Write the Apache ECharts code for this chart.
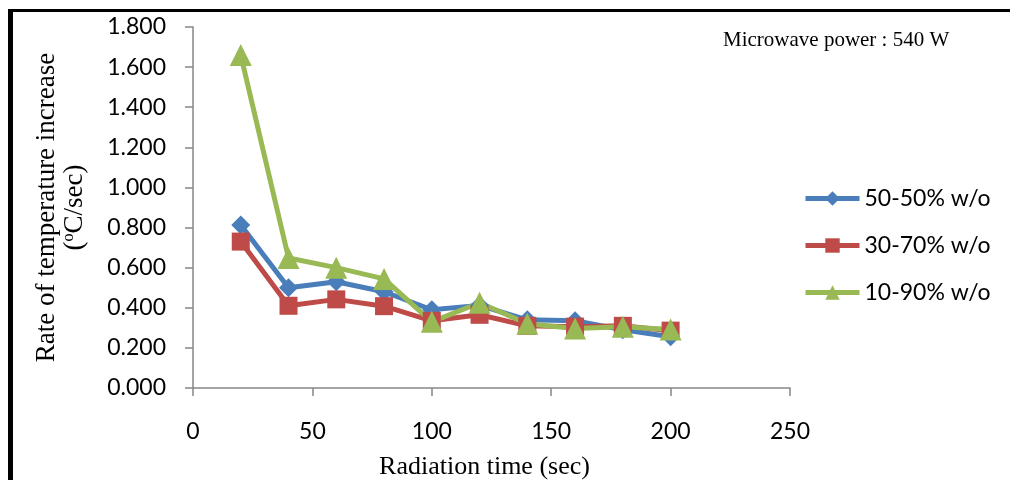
<!DOCTYPE html>
<html>
<head>
<meta charset="utf-8">
<script src="https://cdn.jsdelivr.net/npm/echarts@6/dist/echarts.min.js"></script>
<style>
html,body{margin:0;padding:0;background:#fff;}
#chart{width:1010px;height:480px;}
</style>
</head>
<body>
<div id="chart"></div>
<script>
const xValues = [20, 40, 60, 80, 100, 120, 140, 160, 180, 200];
const s5050 = [0.813, 0.500, 0.530, 0.480, 0.390, 0.412, 0.340, 0.335, 0.290, 0.256];
const s3070 = [0.730, 0.410, 0.442, 0.408, 0.335, 0.365, 0.310, 0.306, 0.310, 0.286];
const s1090 = [1.660, 0.648, 0.600, 0.544, 0.330, 0.425, 0.320, 0.297, 0.305, 0.292];
const seriesNames = ['50-50% w/o', '30-70% w/o', '10-90% w/o'];
const annotation = 'Microwave power : 540 W';
const xTitle = 'Radiation time (sec)';
const yTitle = 'Rate of temperature increase\n({sup|o}C/sec)';

const colors = ['#4A7EBB', '#BE4B48', '#98B954'];
const symbols = ['diamond', 'rect', 'triangle'];
const symbolSizes = [19, 18, 22];
const dataSets = [s5050, s3070, s1090];

const chart = echarts.init(document.getElementById('chart'));
const sans = 'Lato';
const serif = 'Liberation Serif';

const series = dataSets.map((d, i) => ({
  name: seriesNames[i],
  type: 'line',
  data: xValues.map((x, k) => [x, d[k]]),
  symbol: symbols[i],
  symbolSize: symbolSizes[i],
  lineStyle: { color: colors[i], width: 5 },
  itemStyle: { color: colors[i] },
  emphasis: { disabled: true },
  animation: false
}));

chart.setOption({
  animation: false,
  backgroundColor: '#fff',
  grid: { left: 193, top: 27, right: 220, bottom: 92, containLabel: false, outerBoundsMode: 'none' },
  title: {
    text: annotation,
    left: 723, top: 30, padding: 0,
    textStyle: { fontFamily: serif, fontSize: 21, fontWeight: 'normal', color: '#000' }
  },
  legend: {
    orient: 'vertical',
    left: 803, top: 187, padding: 0,
    itemWidth: 54, itemHeight: 18, itemGap: 24,
    lineStyle: { width: 5 },
    textStyle: { fontFamily: sans, fontSize: 23, color: '#000' },
    data: seriesNames
  },
  xAxis: {
    type: 'value', min: 0, max: 250, interval: 50,
    name: xTitle, nameLocation: 'middle', nameGap: 66,
    nameTextStyle: { fontFamily: serif, fontSize: 26, color: '#000', padding: [0, 14, 0, 0] },
    axisLine: { show: true, lineStyle: { color: '#868686', width: 1.5 } },
    axisTick: { show: true, length: 8, inside: false, lineStyle: { color: '#868686', width: 1.5 } },
    axisLabel: { fontFamily: sans, fontSize: 23, color: '#000', margin: 32 },
    splitLine: { show: false }
  },
  yAxis: {
    type: 'value', min: 0, max: 1.8, interval: 0.2,
    name: yTitle, nameLocation: 'middle', nameRotate: 90, nameGap: 104,
    nameTextStyle: {
      fontFamily: serif, fontSize: 27, color: '#000', lineHeight: 28,
      rich: { sup: { fontFamily: serif, fontSize: 16, color: '#000', verticalAlign: 'top', lineHeight: 28 } }
    },
    axisLine: { show: true, lineStyle: { color: '#868686', width: 1.5 } },
    axisTick: { show: true, length: 8, inside: false, lineStyle: { color: '#868686', width: 1.5 } },
    axisLabel: { fontFamily: sans, fontSize: 23, color: '#000', margin: 27,
      formatter: v => v.toFixed(3) },
    splitLine: { show: false }
  },
  graphic: [
    { type: 'rect', shape: { x: 8, y: 9, width: 5, height: 480 }, style: { fill: '#000' }, silent: true },
    { type: 'rect', shape: { x: 8, y: 9, width: 1010, height: 3 }, style: { fill: '#000' }, silent: true }
  ],
  series: series
});
</script>
</body>
</html>
